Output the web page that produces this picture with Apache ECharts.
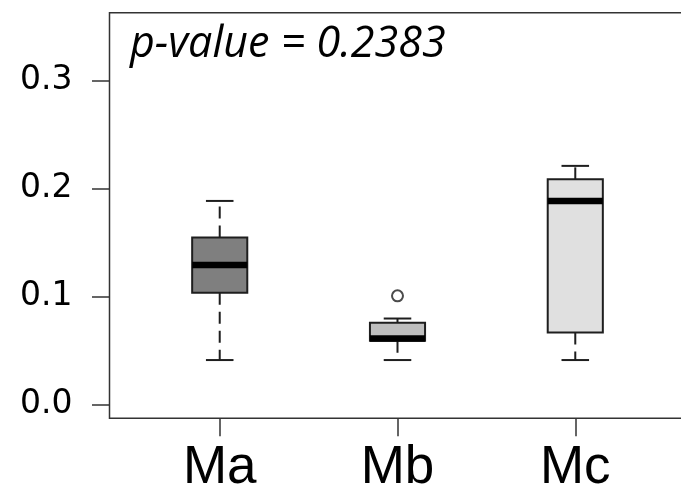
<!DOCTYPE html>
<html>
<head>
<meta charset="utf-8">
<script src="https://cdn.jsdelivr.net/npm/echarts@6/dist/echarts.min.js"></script>
<style>
  html, body { margin: 0; padding: 0; background: #ffffff; }
  #chart { width: 681px; height: 490px; }
</style>
</head>
<body>
<div id="chart"></div>
<script>
// ---- data ----
const categories = ['Ma', 'Mb', 'Mc'];
const whiskerMin = [0.041, 0.041, 0.041];
const quart1 = [0.1035, 0.059, 0.0665];
const medians = [0.129, 0.061, 0.1885];
const quart3 = [0.1545, 0.0755, 0.2085];
const whiskerMax = [0.1885, 0.0795, 0.221];
const outlierGroup = [1];      // index into categories
const outlierValue = [0.1005];
const yTickValues = [0, 0.1, 0.2, 0.3];
const annotation = 'p-value = 0.2383';

// ---- styles ----
const boxFills = ['#7f7f7f', '#bebebe', '#e0e0e0'];
const BOX_WEX = 0.31;
const lineCol = '#1e1e1e';

const boxData = categories.map((c, i) => [i + 1, whiskerMin[i], quart1[i], medians[i], quart3[i], whiskerMax[i]]);
const outlierData = outlierGroup.map((g, i) => [g + 1, outlierValue[i]]);
const xTickValues = categories.map((c, i) => i + 1);

const chart = echarts.init(document.getElementById('chart'), null, { renderer: 'canvas' });

function renderBox(params, api) {
  const x = api.value(0);
  const vMin = api.value(1), vQ1 = api.value(2), vMed = api.value(3), vQ3 = api.value(4), vMax = api.value(5);
  const halfW = api.size([BOX_WEX, 0])[0] / 2;
  const pMin = api.coord([x, vMin]);
  const pQ1 = api.coord([x, vQ1]);
  const pMed = api.coord([x, vMed]);
  const pQ3 = api.coord([x, vQ3]);
  const pMax = api.coord([x, vMax]);
  const cx = pMed[0];
  const whiskerStyle = { stroke: lineCol, lineWidth: 2, lineDash: [12, 7] };
  const capStyle = { stroke: lineCol, lineWidth: 2 };
  return {
    type: 'group',
    children: [
      { type: 'line', shape: { x1: cx, y1: pQ3[1], x2: cx, y2: pMax[1] }, style: whiskerStyle },
      { type: 'line', shape: { x1: cx, y1: pQ1[1], x2: cx, y2: pMin[1] }, style: whiskerStyle },
      { type: 'line', shape: { x1: cx - halfW / 2, y1: pMax[1], x2: cx + halfW / 2, y2: pMax[1] }, style: capStyle },
      { type: 'line', shape: { x1: cx - halfW / 2, y1: pMin[1], x2: cx + halfW / 2, y2: pMin[1] }, style: capStyle },
      { type: 'rect', shape: { x: cx - halfW, y: pQ3[1], width: 2 * halfW, height: pQ1[1] - pQ3[1] },
        style: { fill: boxFills[params.dataIndex], stroke: lineCol, lineWidth: 2 } },
      { type: 'line', shape: { x1: cx - halfW, y1: pMed[1], x2: cx + halfW, y2: pMed[1] },
        style: { stroke: '#000', lineWidth: 6.5 } }
    ]
  };
}

const option = {
  animation: false,
  backgroundColor: '#ffffff',
  grid: {
    left: 109.5, right: -4.5, top: 12.7, bottom: 71.7,
    outerBoundsMode: 'none',
    containLabel: false,
    show: true, borderColor: '#333333', borderWidth: 1.5, backgroundColor: 'transparent'
  },
  xAxis: {
    type: 'value', min: 0.38, max: 3.62,
    axisLine: { show: false, onZero: false },
    splitLine: { show: false },
    axisTick: { show: true, customValues: xTickValues, length: 18, lineStyle: { color: '#333333', width: 1.5 } },
    axisLabel: {
      customValues: xTickValues,
      formatter: v => categories[Math.round(v) - 1],
      fontFamily: 'Liberation Sans', fontSize: 53, color: '#000', margin: 24
    }
  },
  yAxis: {
    type: 'value', min: -0.013, max: 0.363,
    axisLine: { show: false, onZero: false },
    splitLine: { show: false },
    axisTick: { show: true, customValues: yTickValues, length: 17.5, lineStyle: { color: '#333333', width: 1.5 } },
    axisLabel: {
      customValues: yTickValues,
      formatter: v => v.toFixed(1),
      fontFamily: 'DejaVu Sans', fontSize: 33, color: '#000', margin: 37,
      padding: [6, 0, 0, 0]
    }
  },
  graphic: [{
    type: 'text', left: 130, top: 23.5,
    style: { text: annotation, font: 'italic 43px "Open Sans"', fill: '#000' }
  }],
  series: [
    {
      type: 'custom',
      renderItem: renderBox,
      data: boxData,
      encode: { x: 0, y: [1, 2, 3, 4, 5] }
    },
    {
      type: 'scatter',
      data: outlierData,
      symbol: 'circle',
      symbolSize: 11,
      itemStyle: { color: 'rgba(0,0,0,0)', borderColor: lineCol, borderWidth: 2 }
    }
  ]
};
chart.setOption(option);
</script>
</body>
</html>
